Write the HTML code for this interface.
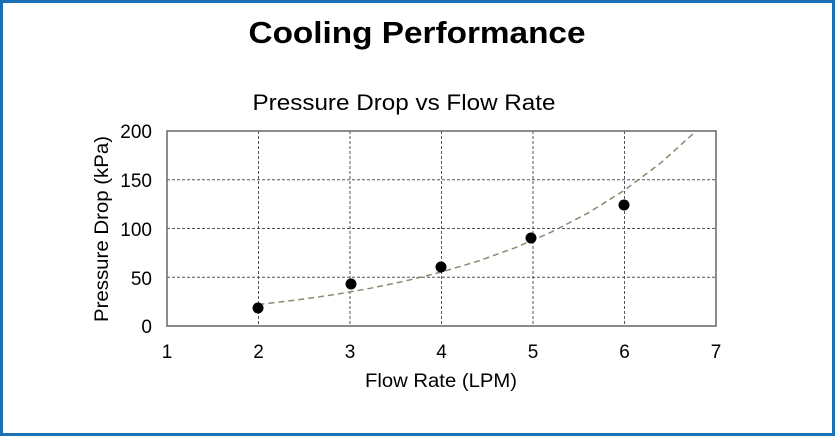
<!DOCTYPE html>
<html><head><style>
html,body{margin:0;padding:0;background:#fff}
svg{display:block}
text{font-family:"Liberation Sans",sans-serif;fill:#000}
</style></head><body>
<svg width="835" height="436" viewBox="0 0 835 436" xmlns="http://www.w3.org/2000/svg">
<rect x="1.5" y="1.5" width="832" height="433" fill="#fff" stroke="#1a6fb5" stroke-width="3"/>
<text x="417" y="43" font-size="31" font-weight="bold" text-anchor="middle" textLength="337" lengthAdjust="spacingAndGlyphs">Cooling Performance</text>
<text x="404" y="110" font-size="22" text-anchor="middle" textLength="303" lengthAdjust="spacingAndGlyphs">Pressure Drop vs Flow Rate</text>
<g stroke="#555" stroke-width="1" stroke-dasharray="3,2">
<line x1="258.5" y1="131" x2="258.5" y2="326"/>
<line x1="350" y1="131" x2="350" y2="326"/>
<line x1="441.5" y1="131" x2="441.5" y2="326"/>
<line x1="533" y1="131" x2="533" y2="326"/>
<line x1="624.5" y1="131" x2="624.5" y2="326"/>
<line x1="167" y1="179.75" x2="716" y2="179.75"/>
<line x1="167" y1="228.5" x2="716" y2="228.5"/>
<line x1="167" y1="277.25" x2="716" y2="277.25"/>
</g>
<rect x="167" y="131" width="549" height="195" fill="none" stroke="#666" stroke-width="1.5"/>
<clipPath id="c"><rect x="167" y="131" width="549" height="195"/></clipPath>
<polyline clip-path="url(#c)" fill="none" stroke="#8a8a70" stroke-width="1.5" stroke-dasharray="6,4" points="258.5,304.5 295.1,300.2 331.7,295 368.3,288.7 404.9,281.1 441.5,272 478.1,261.1 514.7,247.9 551.3,232.1 587.9,213.1 624.5,190.2 661.1,162.7 697.7,129.6"/>
<g fill="#000">
<circle cx="258" cy="308" r="5.5"/>
<circle cx="351" cy="284" r="5.5"/>
<circle cx="441" cy="267" r="5.5"/>
<circle cx="531" cy="238" r="5.5"/>
<circle cx="624" cy="205" r="5.5"/>
</g>
<g font-size="19" text-anchor="end">
<text x="152" y="138">200</text>
<text x="152" y="187">150</text>
<text x="152" y="236">100</text>
<text x="152" y="285">50</text>
<text x="152" y="333">0</text>
</g>
<g font-size="19" text-anchor="middle">
<text x="167" y="358">1</text>
<text x="258.5" y="358">2</text>
<text x="350" y="358">3</text>
<text x="441.5" y="358">4</text>
<text x="533" y="358">5</text>
<text x="624.5" y="358">6</text>
<text x="716" y="358">7</text>
</g>
<text x="441" y="387" font-size="19" text-anchor="middle" textLength="152" lengthAdjust="spacingAndGlyphs">Flow Rate (LPM)</text>
<text transform="translate(108,229) rotate(-90)" font-size="19" text-anchor="middle" textLength="186" lengthAdjust="spacingAndGlyphs">Pressure Drop (kPa)</text>
</svg>
</body></html>
